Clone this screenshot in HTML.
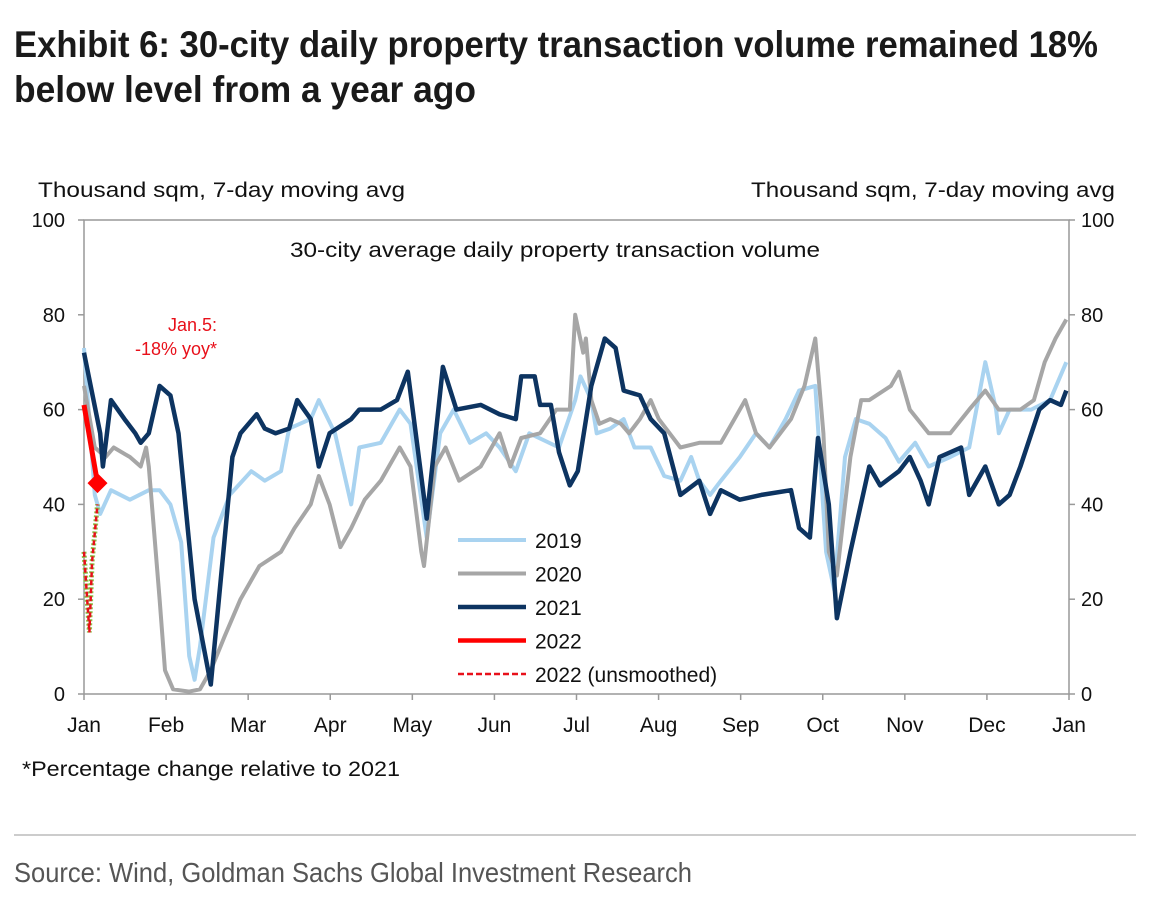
<!DOCTYPE html>
<html><head><meta charset="utf-8"><style>
html,body{margin:0;padding:0;background:#fff;}
svg{display:block;font-family:"Liberation Sans",sans-serif;}
</style></head><body>
<svg id="chart" width="1150" height="901" viewBox="0 0 1150 901" xmlns="http://www.w3.org/2000/svg">
<text x="14" y="57" font-family="Liberation Sans Narrow, Liberation Sans, sans-serif" font-weight="bold" font-size="37" fill="#1a1a1a" textLength="1084" lengthAdjust="spacingAndGlyphs">Exhibit 6: 30-city daily property transaction volume remained 18%</text>
<text x="14" y="102" font-family="Liberation Sans Narrow, Liberation Sans, sans-serif" font-weight="bold" font-size="37" fill="#1a1a1a" textLength="462" lengthAdjust="spacingAndGlyphs">below level from a year ago</text>
<text x="38" y="197" font-size="21" fill="#111" textLength="367" lengthAdjust="spacingAndGlyphs">Thousand sqm, 7-day moving avg</text>
<text x="751" y="197" font-size="21" fill="#111" textLength="364" lengthAdjust="spacingAndGlyphs">Thousand sqm, 7-day moving avg</text>
<text x="290" y="257" font-size="21" fill="#111" textLength="530" lengthAdjust="spacingAndGlyphs">30-city average daily property transaction volume</text>
<g id="axes"></g>
<g id="series"></g>
<text x="217" y="331" font-size="18" fill="#e8101a" text-anchor="end">Jan.5:</text>
<text x="217" y="355" font-size="18" fill="#e8101a" text-anchor="end">-18% yoy*</text>
<g id="legend"></g>
<text x="22" y="776" font-size="21" fill="#111" textLength="378" lengthAdjust="spacingAndGlyphs">*Percentage change relative to 2021</text>
<line x1="14" y1="835" x2="1136" y2="835" stroke="#999" stroke-width="1"/>
<text x="14" y="882" font-family="Liberation Sans Narrow, Liberation Sans, sans-serif" font-size="28" fill="#555" textLength="678" lengthAdjust="spacingAndGlyphs">Source: Wind, Goldman Sachs Global Investment Research</text>
</svg>
<script>
const months = ["Jan","Feb","Mar","Apr","May","Jun","Jul","Aug","Sep","Oct","Nov","Dec","Jan"];
const yTicks = [0,20,40,60,80,100];
const days2019 = [0,4,6,10,17,24,28,32,36,39,41,43,48,54,62,67,73,76,84,87,93,99,102,110,117,121,127,132,137,143,149,154,160,165,176,182,184,188,190,195,200,204,210,215,221,225,228,232,236,243,249,254,260,265,271,275,278,282,286,291,297,302,308,313,321,328,334,338,339,343,351,358,364];
const vals2019 = [73,42,38,43,41,43,43,40,32,8,3,10,33,42,47,45,47,56,58,62,55,40,52,53,60,57,33,55,60,53,55,52,47,55,52,62,67,62,55,56,58,52,52,46,45,50,45,42,45,50,55,52,58,64,65,30,22,50,58,57,54,49,53,48,50,52,70,60,55,60,60,62,70];
const days2020 = [0,4,8,11,17,21,23,24,28,30,33,39,43,47,52,58,65,73,78,84,87,91,95,99,104,110,117,121,125,126,130,134,139,147,154,158,162,169,175,180,182,185,186,188,191,195,199,202,206,210,213,221,228,236,241,245,249,254,262,267,271,274,276,279,284,288,291,299,302,306,313,321,328,334,339,347,352,356,360,364];
const vals2020 = [65,52,50,52,50,48,52,48,20,5,1,0.5,1,5,12,20,27,30,35,40,46,40,31,35,41,45,52,48,30,27,48,52,45,48,55,48,54,55,60,60,80,72,75,62,57,58,57,55,58,62,58,52,53,53,58,62,55,52,58,65,75,55,30,25,50,62,62,65,68,60,55,55,60,64,60,60,62,70,75,79];
const days2021 = [0,6,7,10,15,19,21,24,28,32,35,41,47,55,58,64,67,71,76,79,84,87,91,99,102,110,116,120,127,133,138,147,154,160,162,167,169,173,176,180,183,188,193,197,200,206,210,215,221,228,232,236,243,251,262,265,269,272,276,279,284,291,295,302,306,310,313,317,325,328,334,339,343,347,354,358,362,364];
const vals2021 = [72,55,48,62,58,55,53,55,65,63,55,20,2,50,55,59,56,55,56,62,58,48,55,58,60,60,62,68,37,69,60,61,59,58,67,67,61,61,51,44,47,65,75,73,64,63,58,55,42,45,38,43,41,42,43,35,33,54,40,16,30,48,44,47,50,45,40,50,52,42,48,40,42,48,60,62,61,64];
const days2022 = [0,5];
const vals2022 = [61,44.5];
const days2022raw = [0,2,3,5];
const vals2022raw = [30,13,28,40];

const X0=84, X1=1069, Y0=694, Y1=220;
const NS="http://www.w3.org/2000/svg";
const xs = d => X0 + d/365*(X1-X0);
const ys = v => Y0 - v/100*(Y0-Y1);
function mk(tag, attrs, parent){const e=document.createElementNS(NS,tag);for(const k in attrs)e.setAttribute(k,attrs[k]);parent.appendChild(e);return e;}
const axes=document.getElementById('axes');
const series=document.getElementById('series');
const legend=document.getElementById('legend');

let f=mk('rect',{x:X0,y:Y1,width:X1-X0,height:Y0-Y1,fill:'none',stroke:'#999','stroke-width':1.5},axes);


yTicks.forEach(v=>{
  const y=ys(v);
  let t=mk('line',{x1:X0-6,x2:X0,y1:y,y2:y,stroke:'#999','stroke-width':1.5},axes);
  
  
  let t2=mk('line',{x1:X1,x2:X1+6,y1:y,y2:y,stroke:'#999','stroke-width':1.5},axes);
  
  
  let l=mk('text',{x:X0-19,y:y+7,'font-size':20,fill:'#111','text-anchor':'end'},axes);
  l.textContent=v;
  
  
  let r=mk('text',{x:X1+12,y:y+7,'font-size':20,fill:'#111'},axes);
  r.textContent=v;
  
  
});
months.forEach((m,i)=>{
  const x=X0+i*(X1-X0)/12;
  let t=mk('line',{x1:x,x2:x,y1:Y0,y2:Y0+6,stroke:'#999','stroke-width':1.5},axes);
  
  
  let l=mk('text',{x:x,y:Y0+38,'font-size':21,fill:'#111','text-anchor':'middle'},axes);
  l.textContent=m;
  
  
});
function pts(d,v){return d.map((dd,i)=>xs(dd).toFixed(1)+','+ys(v[i]).toFixed(1)).join(' ');}
let p;
p=mk('polyline',{points:pts(days2019,vals2019),fill:'none',stroke:'#a9d3f0','stroke-width':4,'stroke-linejoin':'round'},series);


p=mk('polyline',{points:pts(days2020,vals2020),fill:'none',stroke:'#a6a6a6','stroke-width':4,'stroke-linejoin':'round'},series);


p=mk('polyline',{points:pts(days2021,vals2021),fill:'none',stroke:'#0d3461','stroke-width':4.5,'stroke-linejoin':'round'},series);


p=mk('polyline',{points:pts(days2022raw,vals2022raw),fill:'none',stroke:'#8bc34a','stroke-width':5,'stroke-dasharray':'2 2'},series);


p=mk('polyline',{points:pts(days2022raw,vals2022raw),fill:'none',stroke:'#e8101a','stroke-width':2.5,'stroke-dasharray':'5 3'},series);


p=mk('polyline',{points:pts(days2022,vals2022),fill:'none',stroke:'#f00','stroke-width':5},series);


const lx=xs(days2022[days2022.length-1]), ly=ys(vals2022[vals2022.length-1]);
p=mk('polygon',{points:`${lx},${ly-10} ${lx+10},${ly} ${lx},${ly+10} ${lx-10},${ly}`,fill:'#f00'},series);



const legItems=[["2019",'#a9d3f0',4,null],["2020",'#a6a6a6',4,null],["2021",'#0d3461',4.5,null],["2022",'#f00',4.5,null],["2022 (unsmoothed)",'#e8101a',2.5,'6 3']];
legItems.forEach((it,i)=>{
  const y=540+i*33.5;
  const a={x1:458,x2:526,y1:y,y2:y,stroke:it[1],'stroke-width':it[2]};
  if(it[3])a['stroke-dasharray']=it[3];
  let s=mk('line',a,legend);
  
  
  let t=mk('text',{x:535,y:y+8,'font-size':21,fill:'#111'},legend);
  t.textContent=it[0];
  
  
});
</script>
</body></html>
